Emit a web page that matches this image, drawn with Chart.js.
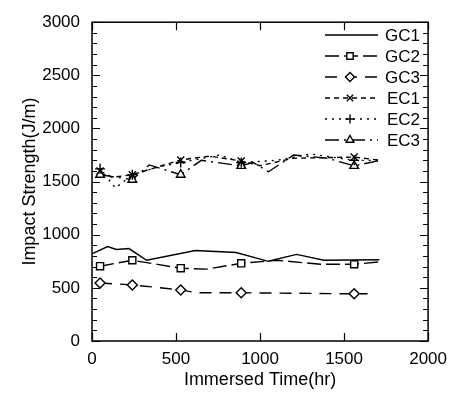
<!DOCTYPE html>
<html>
<head>
<meta charset="utf-8">
<script src="https://cdn.jsdelivr.net/npm/chart.js@4/dist/chart.umd.min.js"></script>
<style>
  html, body { margin: 0; padding: 0; background: #fff; }
  #c { display: block; }
</style>
</head>
<body>
<canvas id="c" width="455" height="394"></canvas>
<script>
// Impact strength vs immersed time, six specimens (GC1-3, EC1-3).
// Values; markers sit at the five sampling times.

const MARK_TIMES = [48, 240, 528, 888, 1560];

const gc1Time = [6, 93, 145, 220, 325, 615, 858, 1049, 1217, 1380, 1710];
const gc1Val  = [824, 889, 861, 870, 760, 852, 833, 750, 815, 760, 765];

const gc2Time = [48, 240, 528, 680, 888, 1100, 1360, 1560, 1715];
const gc2Val  = [704, 760, 685, 676, 731, 760, 722, 722, 745];

const gc3Time = [48, 240, 528, 620, 888, 1560, 1640];
const gc3Val  = [546, 528, 481, 454, 454, 444, 444];

const ec1Time = [48, 120, 240, 528, 700, 888, 1000, 1200, 1560, 1715];
const ec1Val  = [1600, 1540, 1565, 1704, 1740, 1694, 1650, 1720, 1731, 1700];

const ec2Time = [48, 140, 240, 400, 528, 760, 888, 1100, 1300, 1560, 1715];
const ec2Val  = [1620, 1440, 1565, 1640, 1680, 1750, 1680, 1700, 1760, 1700, 1700];

const ec3Time = [48, 240, 340, 528, 650, 888, 960, 1050, 1200, 1400, 1560, 1715];
const ec3Val  = [1565, 1518, 1657, 1565, 1700, 1648, 1680, 1593, 1750, 1720, 1648, 1700];

const xTicks = [0, 500, 1000, 1500, 2000];
const yTicks = [0, 500, 1000, 1500, 2000, 2500, 3000];

const FONT = "'Liberation Sans', Arial, sans-serif";
const INK = "#000";

function series(label, times, vals, style, dash) {
  return {
    label,
    data: times.map((t, i) => ({ x: t, y: vals[i] })),
    borderColor: INK,
    backgroundColor: "#fff",
    borderWidth: 1.4,
    borderDash: dash,
    pointStyle: style || false,
    // only the sampling times carry a marker
    pointRadius: times.map((t) => (style && MARK_TIMES.includes(t) ? 5 : 0)),
    pointBorderWidth: 1.4,
    pointBorderColor: INK,
    pointBackgroundColor: "#fff",
    tension: 0,
    fill: false,
  };
}

const datasets = [
  series("GC1", gc1Time, gc1Val, null, []),
  series("GC2", gc2Time, gc2Val, "rect", [14, 5]),
  series("GC3", gc3Time, gc3Val, "rectRot", [12, 8]),
  series("EC1", ec1Time, ec1Val, "crossRot", [5, 4]),
  series("EC2", ec2Time, ec2Val, "cross", [2, 5]),
  series("EC3", ec3Time, ec3Val, "triangle", [14, 5, 2, 5]),
];

// Frame, inward ticks and the in-plot legend.
const framePlugin = {
  id: "frame",
  afterDatasetsDraw(chart) {
    const { ctx, chartArea: a, scales: { x, y } } = chart;
    ctx.save();
    ctx.strokeStyle = INK;
    ctx.lineWidth = 1.5;
    ctx.setLineDash([]);
    ctx.strokeRect(a.left, a.top, a.right - a.left, a.bottom - a.top);
    ctx.lineWidth = 1.2;
    ctx.beginPath();
    for (let v = 0; v <= 3000; v += 100) {
      const py = Math.round(y.getPixelForValue(v)) + 0.5;
      const len = v % 500 === 0 ? 8 : 5;
      ctx.moveTo(a.left, py); ctx.lineTo(a.left + len, py);
      ctx.moveTo(a.right, py); ctx.lineTo(a.right - len, py);
    }
    xTicks.forEach((v) => {
      const px = Math.round(x.getPixelForValue(v)) + 0.5;
      ctx.moveTo(px, a.bottom); ctx.lineTo(px, a.bottom - 8);
      ctx.moveTo(px, a.top); ctx.lineTo(px, a.top + 8);
    });
    ctx.stroke();

    // legend
    ctx.font = "17px " + FONT;
    ctx.textAlign = "right";
    ctx.textBaseline = "middle";
    chart.data.datasets.forEach((ds, i) => {
      const ly = 35 + i * 21;
      ctx.strokeStyle = INK;
      ctx.lineWidth = 1.4;
      ctx.setLineDash(ds.borderDash);
      ctx.beginPath();
      ctx.moveTo(325, ly); ctx.lineTo(378, ly);
      ctx.stroke();
      ctx.setLineDash([]);
      if (ds.pointStyle) {
        ctx.fillStyle = "#fff";
        Chart.helpers.drawPoint(ctx, {
          pointStyle: ds.pointStyle, radius: 4.5, borderWidth: 1.4, rotation: 0,
        }, 350, ly);
      }
      ctx.fillStyle = INK;
      ctx.fillText(ds.label, 420, ly + 1);
    });
    ctx.restore();
  },
};

const tickFont = { family: FONT, size: 17 };
const titleFont = { family: FONT, size: 18 };

new Chart(document.getElementById("c"), {
  type: "line",
  data: { datasets },
  plugins: [framePlugin],
  options: {
    responsive: false,
    animation: false,
    layout: { padding: { top: 17, right: 19, left: 0, bottom: 0 } },
    plugins: { legend: { display: false }, tooltip: { enabled: false } },
    scales: {
      x: {
        type: "linear",
        min: 0, max: 2000,
        afterBuildTicks: (s) => { s.ticks = xTicks.map((v) => ({ value: v })); },
        afterFit: (s) => { s.height = 53; },
        grid: { display: false, drawTicks: false },
        border: { display: false },
        ticks: { padding: 8, color: INK, font: tickFont, maxRotation: 0, callback: (v) => String(v) },
        title: {
          display: true, text: "Immersed Time(hr)", color: INK,
          font: titleFont, padding: { top: 0, bottom: 3 },
        },
      },
      y: {
        min: 0, max: 3000,
        afterBuildTicks: (s) => { s.ticks = yTicks.map((v) => ({ value: v })); },
        afterFit: (s) => { s.width = 92; },
        grid: { display: false, drawTicks: false },
        border: { display: false },
        ticks: { padding: 12, color: INK, font: tickFont, callback: (v) => String(v) },
        title: {
          display: true, text: "Impact Strength(J/m)", color: INK,
          font: titleFont, padding: { top: 19, bottom: 0 },
        },
      },
    },
  },
});
</script>
</body>
</html>
